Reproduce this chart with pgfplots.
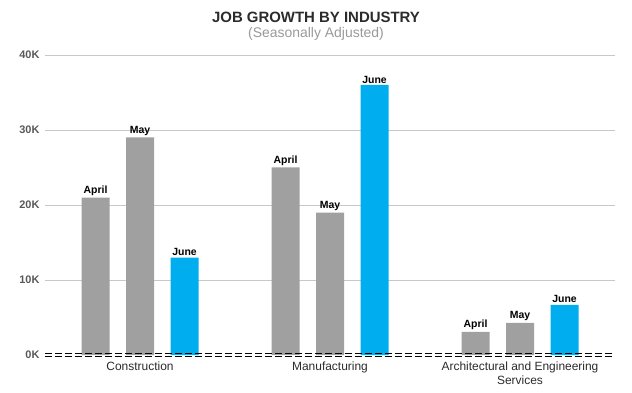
\documentclass[border=0pt]{standalone}
\usepackage{pgfplots}
\pgfplotsset{compat=1.18}
\usepackage{fontspec}
\setmainfont{Liberation Sans}
\definecolor{barGray}{HTML}{A0A0A0}
\definecolor{barBlue}{HTML}{00AEEF}
\definecolor{gridGray}{HTML}{C8C8C8}
\definecolor{tickGray}{HTML}{595959}
\definecolor{catText}{HTML}{2B2B2B}
\begin{document}
\begin{tikzpicture}
\begin{axis}[
  name=ax,
  scale only axis, width=570bp, height=300bp,
  ybar=16.5bp, bar width=28bp,
  xmin=-0.5, xmax=2.5, ymin=0, ymax=40000,
  axis line style={draw=none},
  xtick={0,1,2},
  xticklabels={Construction, Manufacturing, {Architectural and Engineering\\Services}},
  x tick label style={font=\fontsize{12}{14}\selectfont, text=catText, align=center, anchor=north, yshift=1bp},
  major x tick style={draw=none},
  extra x ticks={-0.5,0.5,1.5,2.5},
  extra x tick labels={},
  extra x tick style={major tick length=5bp, tick align=outside, major tick style={draw=gray!70, thin}, grid=none},
  ytick={10000,20000,30000,40000},
  yticklabels={10K,20K,30K,40K},
  extra y ticks={0}, extra y tick labels={0K},
  extra y tick style={grid=none},
  y tick label style={font=\fontsize{11}{13}\selectfont\bfseries, text=tickGray, xshift=-2bp},
  major y tick style={draw=none},
  ymajorgrids, grid style={gridGray, line width=0.8bp},
  scaled y ticks=false,
  every node near coord/.append style={font=\fontsize{10.5}{12}\selectfont\bfseries, text=black, inner sep=1.5bp, anchor=south},
  clip=false,
]
\addplot[fill=barGray, draw=none, nodes near coords={April}] coordinates {(0,21000) (1,25000) (2,3100)};
\addplot[fill=barGray, draw=none, nodes near coords={May}] coordinates {(0,29000) (1,19000) (2,4300)};
\addplot[fill=barBlue, draw=none, nodes near coords={June}] coordinates {(0,13000) (1,36000) (2,6700)};
\draw[black, line width=1.1bp, dash pattern=on 7bp off 3bp] ([yshift=1.5bp]rel axis cs:0,0) -- ([yshift=1.5bp]rel axis cs:1,0);
\draw[black, line width=1.1bp, dash pattern=on 7bp off 3bp] ([yshift=-1.5bp]rel axis cs:0,0) -- ([yshift=-1.5bp]rel axis cs:1,0);
\end{axis}
\node[font=\fontsize{15}{17}\selectfont\bfseries, text=catText] at ([xshift=-14bp,yshift=38bp]ax.north) {JOB GROWTH BY INDUSTRY};
\node[font=\fontsize{14}{16}\selectfont, text=gray!80] at ([xshift=-14bp,yshift=21bp]ax.north) {(Seasonally Adjusted)};
\pgfresetboundingbox
\path[use as bounding box] ([xshift=-45bp,yshift=-38bp]ax.south west) rectangle ([xshift=17bp,yshift=55bp]ax.north east);
\end{tikzpicture}
\end{document}
